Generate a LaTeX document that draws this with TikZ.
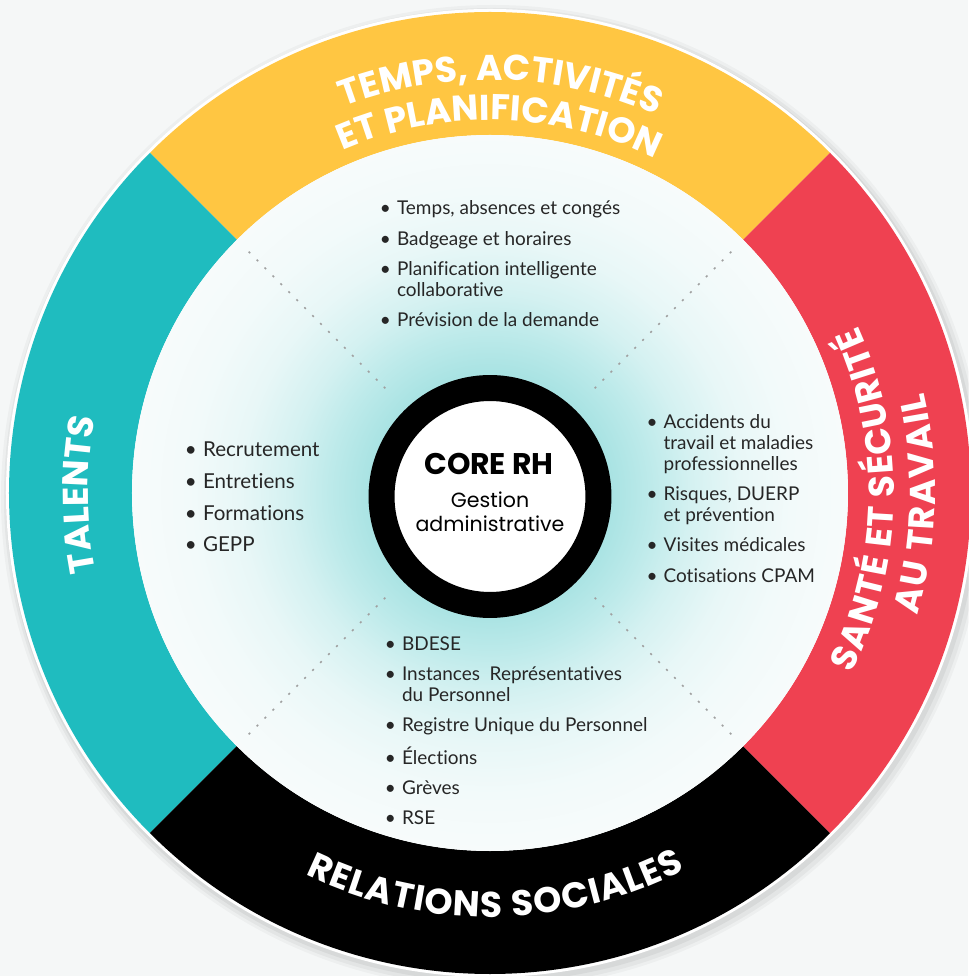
\documentclass[tikz,border=0pt]{standalone}
\usepackage{fontspec}
\usepackage{tikz}
\usetikzlibrary{positioning,decorations.text}
\setmainfont{Lato}[Ligatures=NoCommon]
\newfontfamily\popfont{Poppins}

\definecolor{fond}{HTML}{F5F7F7}
\definecolor{jaune}{HTML}{FFC642}
\definecolor{rouge}{HTML}{EF4151}
\definecolor{turquoise}{HTML}{1FBCBF}
\definecolor{texte}{HTML}{262626}
\definecolor{pointille}{HTML}{A0A0A0}
\definecolor{halo0}{HTML}{A9E3E3}
\definecolor{halo1}{HTML}{BDEAEA}
\definecolor{halo2}{HTML}{D4F1F1}
\definecolor{halo3}{HTML}{E8F7F7}
\definecolor{halo4}{HTML}{F2FAFA}
\definecolor{halo5}{HTML}{F7FBFB}

\pgfdeclareradialshading{halo}{\pgfpoint{0bp}{0bp}}{color(0bp)=(halo0); color(8.45bp)=(halo0); color(11.2bp)=(halo1); color(14bp)=(halo2); color(17.5bp)=(halo3); color(21bp)=(halo4); color(25bp)=(halo5); color(50bp)=(halo5)}

\newcommand{\fonteanneau}{\color{white}\popfont\bfseries\fontsize{20.4}{24}\selectfont}
\newcommand{\puce}{\makebox[0pt][r]{\textbullet\hspace{3.5pt}}}

\tikzset{
  liste/.style={anchor=north west, align=left, inner sep=0pt, text=texte, font=\fontsize{10.8}{11.9}\selectfont},
  pointilles/.style={draw=pointille, line width=0.9pt, dash pattern=on 1.2pt off 5.2pt},
  titre/.style={decorate, decoration={text along path, text align=center, text={#1}}},
  titre etire/.style={decorate, decoration={text along path, text align={fit to path}, text={#1}}}
}

\begin{document}
\begin{tikzpicture}[x=0.02cm, y=0.02cm]
	\useasboundingbox (-490,-483) rectangle (478,493);
	\fill[fond] (-490,-483) rectangle (478,493);
	% ombre et liseré blanc
	\fill[black, opacity=0.03] (3,-4) circle[radius=492];
	\fill[black, opacity=0.04] (3,-4) circle[radius=489];
	\fill[black, opacity=0.05] (2,-3) circle[radius=486];
	\fill[white] (0,0) circle[radius=484];
	% les quatre secteurs de l'anneau
	\fill[jaune] (45:481) arc[start angle=45, end angle=135, radius=481]
		-- (135:358) arc[start angle=135, end angle=45, radius=358] -- cycle;
	\fill[turquoise] (135:481) arc[start angle=135, end angle=225, radius=481]
		-- (225:358) arc[start angle=225, end angle=135, radius=358] -- cycle;
	\fill[black] (225:481) arc[start angle=225, end angle=315, radius=481]
		-- (315:358) arc[start angle=315, end angle=225, radius=358] -- cycle;
	\fill[rouge] (-45:481) arc[start angle=-45, end angle=45, radius=481]
		-- (45:358) arc[start angle=45, end angle=-45, radius=358] -- cycle;
	% disque intérieur
	\shade[shading=halo] (0,0) circle[radius=358];
	\draw[pointilles] (45:148) -- (45:345);
	\draw[pointilles] (135:148) -- (135:345);
	\draw[pointilles] (225:148) -- (225:345);
	\draw[pointilles] (315:148) -- (315:345);
	% coeur
	\node[circle, draw=black, line width=0.52cm, fill=white, minimum size=4.34cm, inner sep=0pt] (core) at (0,-3.5) {};
	\node[anchor=base, inner sep=0pt, font=\popfont\bfseries\fontsize{17}{20}\selectfont] (core_t) at (-1,18) {CORE RH};
	\node[anchor=base, inner sep=0pt, font=\popfont\fontsize{11.7}{13.6}\selectfont] (core_g) at (0,-14.7) {Gestion};
	\node[anchor=base, inner sep=0pt, font=\popfont\fontsize{11.7}{13.6}\selectfont] (core_a) at (0,-38.7) {administrative};
	% listes
	\node[liste] (temps) at (-93.3,292.5) {\puce Temps, absences et congés\\[5.4pt]
		\puce Badgeage et horaires\\[5.4pt]
		\puce Planification intelligente\\collaborative\\[5.4pt]
		\puce Prévision de la demande};
	\node[liste, font=\fontsize{11.7}{12.8}\selectfont] (talents) at (-287.3,51.5) {\puce Recrutement\\[5.3pt]
		\puce Entretiens\\[5.3pt]
		\puce Formations\\[5.3pt]
		\puce GEPP};
	\node[liste] (sante) at (173.3,79) {\puce Accidents du\\travail et maladies\\professionnelles\\[5.4pt]
		\puce Risques, DUERP\\et prévention\\[5.4pt]
		\puce Visites médicales\\[5.4pt]
		\puce Cotisations CPAM};
	\node[liste] (relations) at (-88.3,-143) {\puce BDESE\\[5.4pt]
		\puce Instances\ \ Représentatives\\du Personnel\\[5.4pt]
		\puce Registre Unique du Personnel\\[5.4pt]
		\puce Élections\\[5.4pt]
		\puce Grèves\\[5.4pt]
		\puce RSE};
	% titres de l'anneau
	\path[titre={|\fonteanneau|TEMPS, ACTIVITÉS}] (128.5:413) arc[start angle=128.5, end angle=48.5, radius=413];
	\path[titre={|\fonteanneau|ET PLANIFICATION}] (128.5:373) arc[start angle=128.5, end angle=48.5, radius=373];
	\path[titre={|\fonteanneau|TALENTS}] (220.2:402) arc[start angle=220.2, end angle=140.2, radius=402];
	\path[titre etire={|\fonteanneau|RELATIONS SOCIALES}] (244.2:424) arc[start angle=244.2, end angle=297.4, radius=424];
	\path[titre etire={|\fonteanneau|SANTÉ ET SÉCURITÉ}] (-26.5:404) arc[start angle=-26.5, end angle=24.5, radius=404];
	\path[titre etire={|\fonteanneau|AU TRAVAIL}] (-16:445) arc[start angle=-16, end angle=13, radius=445];
\end{tikzpicture}
\end{document}
